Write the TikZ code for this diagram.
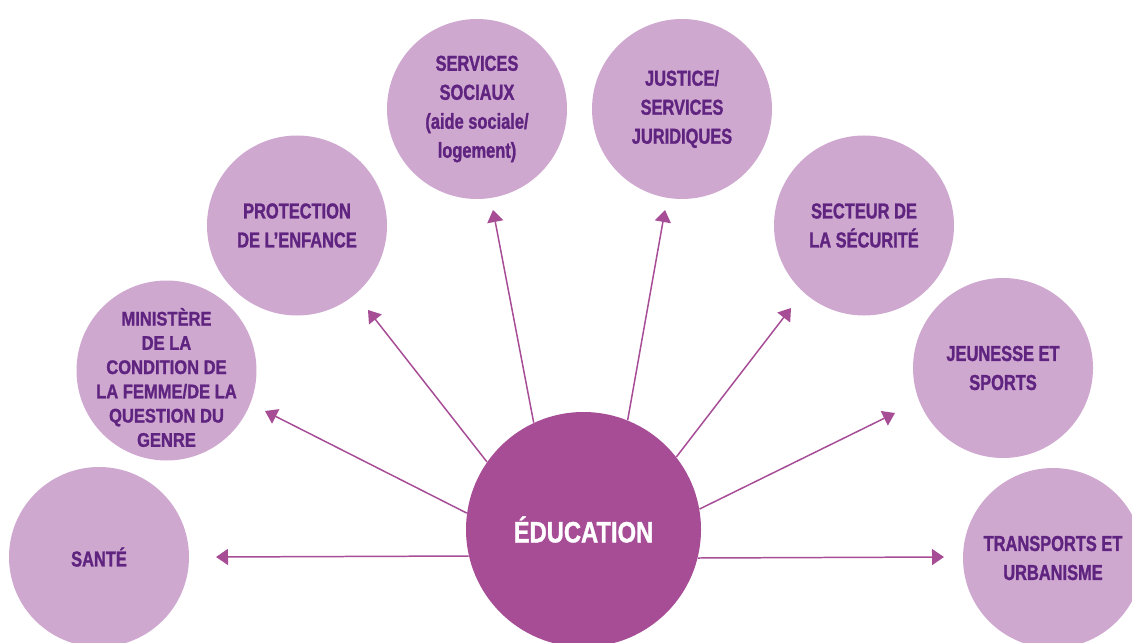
\documentclass[tikz,border=0pt]{standalone}
\usepackage{fontspec}
\setmainfont{Liberation Sans}[FakeStretch=0.76, FakeBold=1.2]
\newfontfamily\edufont{Liberation Sans}[FakeStretch=0.81, FakeBold=1.2]
\newfontfamily\minfont{Liberation Sans}[FakeStretch=0.84, FakeBold=1.2]
\usetikzlibrary{arrows.meta}
\definecolor{lil}{HTML}{CFA8CF}
\definecolor{educ}{HTML}{A64D96}
\definecolor{txt}{HTML}{5F2380}
\begin{document}
\begin{tikzpicture}[
  sat/.style={circle, fill=lil, minimum size=3.6cm, inner sep=0pt, text=txt, align=center,
    font=\bfseries\fontsize{12.3}{16.5}\selectfont},
  mintext/.style={inner sep=0pt, text=txt, align=center,
    font=\minfont\bfseries\fontsize{11.2}{13.8}\selectfont},
  link/.style={draw=educ, line width=0.85pt, -{Triangle[length=0.24cm,width=0.32cm]}}]
\useasboundingbox (0,0) rectangle (22.64,12.84);
\clip (0,0) rectangle (22.64,12.84);
\node[sat] (sante) at (1.98,1.70) {SANTÉ};
\node[sat] (min) at (3.33,5.43) {};
\node[mintext, yshift=-0.14cm] (mintxt) at (min) {MINISTÈRE\\DE LA\\CONDITION DE\\LA FEMME/DE LA\\QUESTION DU\\GENRE};
\node[sat] (prot) at (5.94,8.33) {PROTECTION\\DE L’ENFANCE};
\node[sat] (soc) at (9.54,10.66) {SERVICES\\SOCIAUX\\(aide sociale/\\logement)};
\node[sat] (just) at (13.64,10.66) {JUSTICE/\\SERVICES\\JURIDIQUES};
\node[sat] (secu) at (17.28,8.33) {SECTEUR DE\\LA SÉCURITÉ};
\node[sat] (jeun) at (20.06,5.48) {JEUNESSE ET\\SPORTS};
\node[sat] (trans) at (21.06,1.68) {TRANSPORTS ET\\URBANISME};
\node[circle, fill=educ, minimum size=4.7cm, inner sep=0pt, text=white,
  font=\edufont\bfseries\fontsize{16.7}{20}\selectfont] (edu) at (11.67,2.25) {ÉDUCATION};
\coordinate (tSante) at (4.32,1.70);
\coordinate (tMin) at (5.30,4.62);
\coordinate (tProt) at (7.36,6.64);
\coordinate (tSoc) at (9.86,8.64);
\coordinate (tJust) at (13.30,8.64);
\coordinate (tSecu) at (15.82,6.68);
\coordinate (tJeun) at (17.90,4.58);
\coordinate (tTrans) at (18.88,1.70);
\draw[link] (edu.193.5) -- (tSante);
\draw[link] (edu.172) -- (tMin);
\draw[link] (edu.145) -- (tProt);
\draw[link] (edu.115.4) -- (tSoc);
\draw[link] (edu.68.3) -- (tJust);
\draw[link] (edu.38) -- (tSecu);
\draw[link] (edu.10) -- (tJeun);
\draw[link] (edu.346.5) -- (tTrans);
\end{tikzpicture}
\end{document}
